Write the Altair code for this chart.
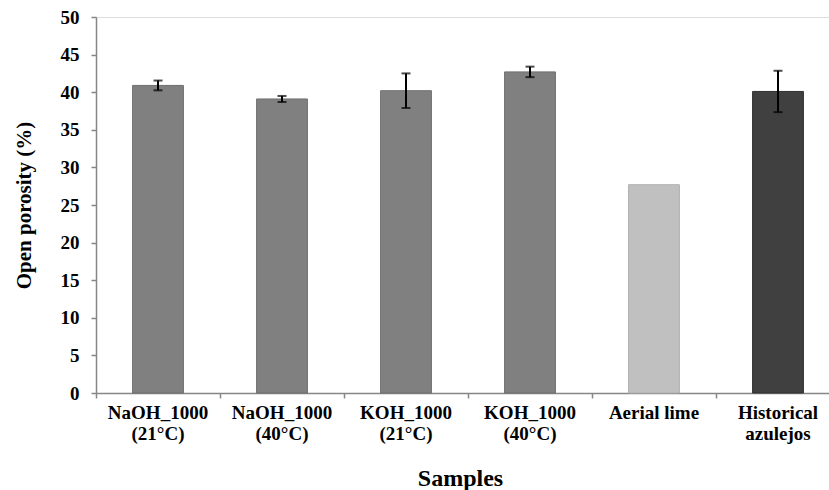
import altair as alt
import pandas as pd

samples = ["NaOH_1000\n(21°C)", "NaOH_1000\n(40°C)", "KOH_1000\n(21°C)",
           "KOH_1000\n(40°C)", "Aerial lime", "Historical\nazulejos"]
porosity = [40.9, 39.1, 40.2, 42.7, 27.7, 40.1]
err = [0.65, 0.4, 2.3, 0.7, None, 2.75]
colors = ["#808080", "#808080", "#808080", "#808080", "#c0c0c0", "#404040"]
strokes = ["#6f6f6f", "#6f6f6f", "#6f6f6f", "#6f6f6f", "#b0b0b0", "#303030"]
y_ticks = [0, 5, 10, 15, 20, 25, 30, 35, 40, 45, 50]

df = pd.DataFrame({"sample": samples, "value": porosity, "err": err})
df["lower"] = df["value"] - df["err"]
df["upper"] = df["value"] + df["err"]
edf = df.dropna(subset=["err"])

FONT = "Liberation Serif"
AX = "#868686"

x_axis = alt.Axis(
    title="Samples", bandPosition=0, tickSize=5, tickColor=AX, domainColor=AX,
    domainWidth=1.5, tickWidth=1.5,
    labelAngle=0, labelFont=FONT, labelFontSize=19, labelFontWeight="bold",
    labelColor="black", labelPadding=5, labelLineHeight=21, labelBaseline="top",
    labelOverlap=False,
    labelExpr="split(datum.label, '\\n')",
    titleFont=FONT, titleFontSize=24, titleFontWeight="bold", titleColor="black",
    titleX=364, titleY=92, titleAlign="center", titleBaseline="alphabetic",
)
x_scale = alt.Scale(range=[0, 744], paddingInner=0, paddingOuter=0)

y_axis = alt.Axis(
    title="Open porosity (%)", values=y_ticks, grid=False, labelOverlap=False,
    tickSize=5, tickColor=AX, domainColor=AX, domainWidth=1.5, tickWidth=1.5,
    labelFont=FONT, labelFontSize=19, labelFontWeight="bold", labelColor="black",
    labelPadding=12,
    titleFont=FONT, titleFontSize=21, titleFontWeight="bold", titleColor="black",
    titleX=-72, titleY=188, titleAngle=-90, titleAlign="center", titleBaseline="middle",
)
y_scale = alt.Scale(domain=[0, 50], nice=False)


def X():
    return alt.X("sample:N", sort=samples, scale=x_scale, axis=x_axis)


def Y(field):
    return alt.Y(field, scale=y_scale, axis=y_axis)


bars = alt.Chart(df).mark_bar(width=alt.RelativeBandSize(0.41), strokeWidth=1).encode(
    x=X(),
    y=Y("value:Q"),
    color=alt.Color("sample:N", scale=alt.Scale(domain=samples, range=colors), legend=None),
    stroke=alt.Stroke("sample:N", scale=alt.Scale(domain=samples, range=strokes), legend=None),
)

rules = alt.Chart(edf).mark_rule(color="black", strokeWidth=2).encode(
    x=X(), y=Y("lower:Q"), y2="upper:Q"
)
cap_hi = alt.Chart(edf).mark_tick(color="black", thickness=2, size=9).encode(
    x=X(), y=Y("upper:Q")
)
cap_lo = alt.Chart(edf).mark_tick(color="black", thickness=2, size=9).encode(
    x=X(), y=Y("lower:Q")
)

chart = alt.layer(bars, rules, cap_hi, cap_lo).properties(
    width=733, height=376,
    autosize=alt.AutoSizeParams(type="none"),
    padding={"left": 96, "top": 17, "right": 0, "bottom": 97},
).configure_view(stroke=AX, strokeWidth=1.5).configure(font=FONT, background="white")

chart.save("out.html", embed_options={"renderer": "svg", "actions": False})
